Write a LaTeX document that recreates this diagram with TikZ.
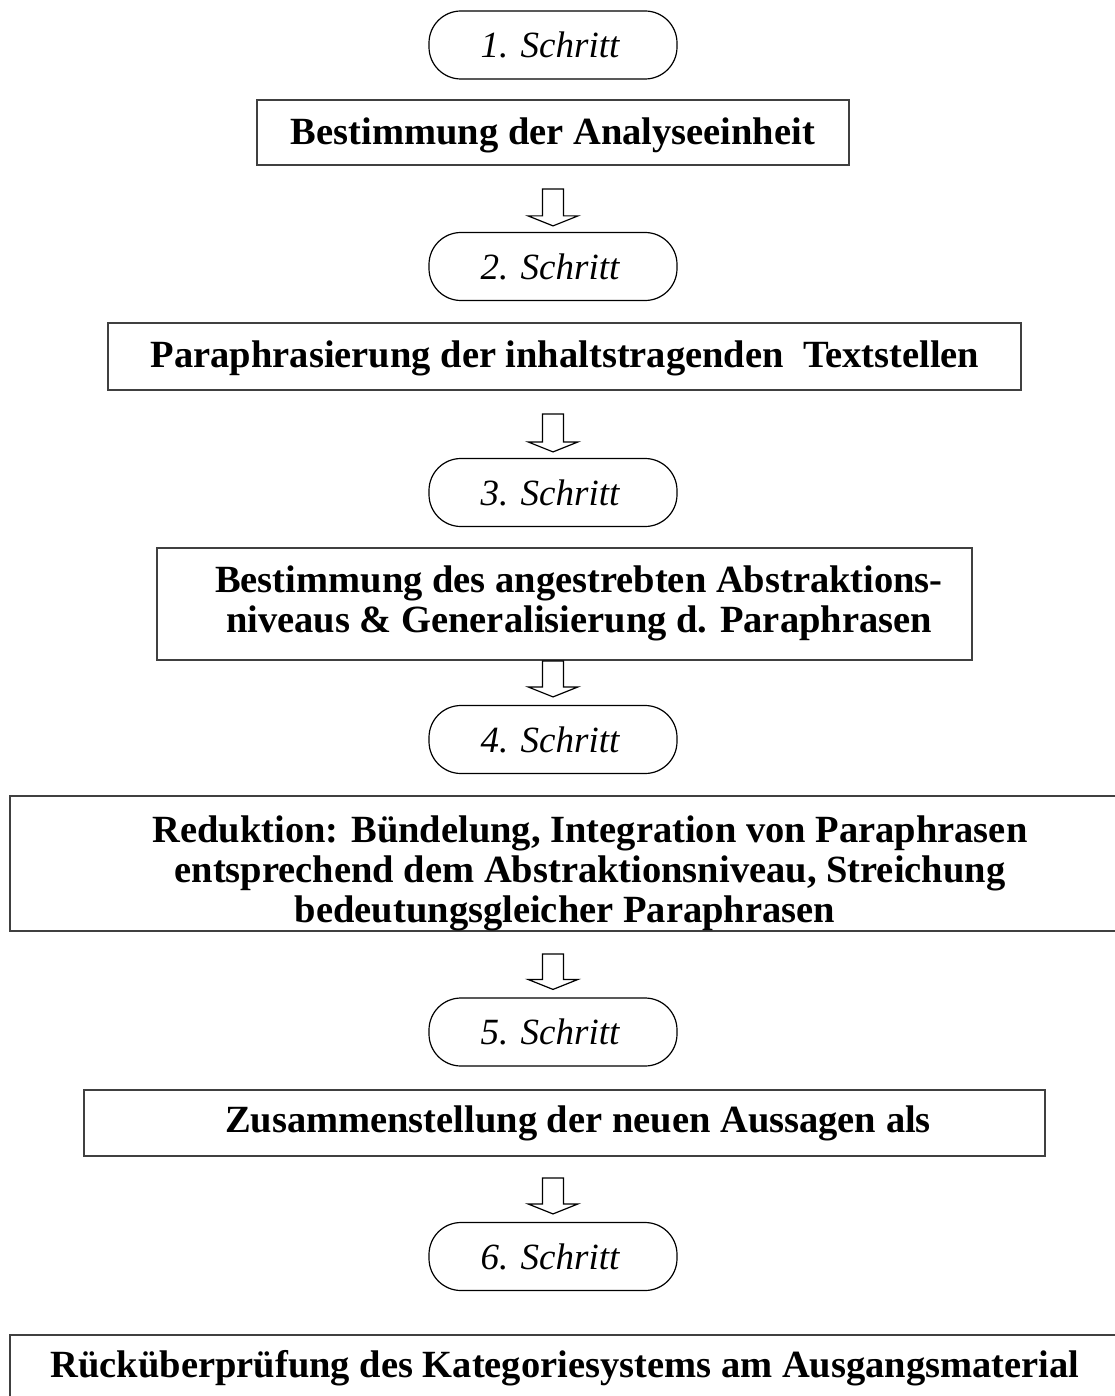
\documentclass[tikz,border=0pt]{standalone}
\usepackage{fontspec}
\setmainfont{Liberation Serif}
\usetikzlibrary{calc}
\definecolor{boxline}{HTML}{404040}
\tikzset{
  stepstad/.style={draw=black, line width=1.2pt, rounded corners=32pt,
    minimum width=248pt, minimum height=68pt, inner sep=0pt,
    font=\fontsize{37}{40}\selectfont\itshape},
  stepbox/.style={draw=boxline, line width=2pt, inner sep=0pt},
  boxtext/.style={font=\fontsize{38.5}{40}\selectfont\bfseries, align=center, inner sep=0pt},
  hollowarrow/.style={draw=black, line width=1.2pt, fill=white, line join=miter},
}
\newcommand{\blockarrow}[2]{%
  \draw[hollowarrow] let \p1=(#1), \p2=(#2) in
    (\x1-10.5pt,\y1) -- (\x1+10.5pt,\y1) -- (\x1+10.5pt,\y2+10pt) -- (\x1+25pt,\y2+10pt)
    -- (\x2,\y2) -- (\x1-25pt,\y2+10pt) -- (\x1-10.5pt,\y2+10pt) -- cycle;}
\begin{document}
\begin{tikzpicture}[x=1pt,y=-1pt]
\clip (0,0) rectangle (1115,1396);
\fill[white] (0,0) rectangle (1115,1396);

% step ovals
\node[stepstad] (s1) at (553,45) {\kern-6pt 1. Schritt};
\node[stepstad] (s2) at (553,266.5) {\kern-6pt 2. Schritt};
\node[stepstad] (s3) at (553,492.5) {\kern-6pt 3. Schritt};
\node[stepstad] (s4) at (553,739.5) {\kern-6pt 4. Schritt};
\node[stepstad] (s5) at (553,1032) {\kern-6pt 5. Schritt};
\node[stepstad] (s6) at (553,1256.5) {\kern-6pt 6. Schritt};

% boxes
\node[stepbox, minimum width=592pt, minimum height=65pt] (b1) at (553,132.5) {};
\node[stepbox, minimum width=913pt, minimum height=67pt] (b2) at (564.5,356.5) {};
\node[stepbox, minimum width=815pt, minimum height=112pt] (b3) at (564.5,604) {};
\node[stepbox, minimum width=1120pt, minimum height=135pt] (b4) at (570,863.5) {};
\node[stepbox, minimum width=961pt, minimum height=66pt] (b5) at (564.5,1123) {};
\node[stepbox, minimum width=1120pt, minimum height=95pt] (b6) at (570,1382.5) {};

% box texts
\node[boxtext] (t1) at (553,135) {Bestimmung der Analyseeinheit};
\node[boxtext] (t2) at (565,358) {Paraphrasierung der inhaltstragenden\ \ Textstellen};
\node[boxtext] (t3) at (579,603) {Bestimmung des angestrebten Abstraktions-\\niveaus \& Generalisierung d. Paraphrasen};
\begin{scope}
  \clip (b4.south west) rectangle (b4.north east);
  \node[boxtext] (t4) at (590,873) {Reduktion: Bündelung, Integration von Paraphrasen\\entsprechend dem Abstraktionsniveau, Streichung\\\hbox{\kern-50pt bedeutungsgleicher Paraphrasen}};
\end{scope}
\node[boxtext] (t5) at (578,1123) {Zusammenstellung der neuen Aussagen als};
\node[boxtext] (t6) at (565,1368) {Rücküberprüfung des Kategoriesystems am Ausgangsmaterial};

% arrows
\coordinate (a1s) at ($(b1.south -| s2.north)+(0,23)$);
\coordinate (a1t) at ($(s2.north)+(0,-6)$);
\coordinate (a2s) at ($(b2.south -| s3.north)+(0,23)$);
\coordinate (a2t) at ($(s3.north)+(0,-6)$);
\coordinate (a3s) at (b3.south -| s4.north);
\coordinate (a3t) at ($(s4.north)+(0,-8)$);
\coordinate (a4s) at ($(b4.south -| s5.north)+(0,22)$);
\coordinate (a4t) at ($(s5.north)+(0,-8)$);
\coordinate (a5s) at ($(b5.south -| s6.north)+(0,21)$);
\coordinate (a5t) at ($(s6.north)+(0,-8)$);
\blockarrow{a1s}{a1t}
\blockarrow{a2s}{a2t}
\blockarrow{a3s}{a3t}
\blockarrow{a4s}{a4t}
\blockarrow{a5s}{a5t}
\end{tikzpicture}
\end{document}
